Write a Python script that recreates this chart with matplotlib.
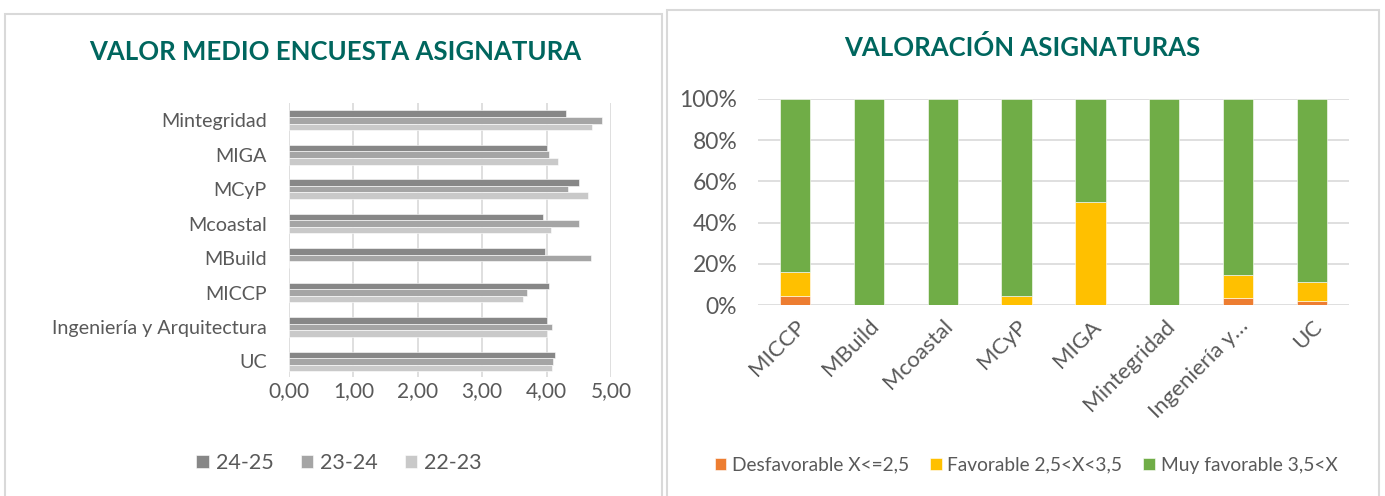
import matplotlib.pyplot as plt
import numpy as np
from matplotlib.patches import Rectangle

plt.rcParams['font.family'] = ['Lato', 'DejaVu Sans']

# left chart data (bottom to top as drawn)
materias = ['UC', 'Ingeniería y Arquitectura', 'MICCP', 'MBuild',
            'Mcoastal', 'MCyP', 'MIGA', 'Mintegridad']
v2425 = [4.13, 4.00, 4.04, 3.98, 3.94, 4.51, 4.00, 4.30]
v2324 = [4.10, 4.09, 3.70, 4.69, 4.51, 4.33, 4.04, 4.86]
v2223 = [4.09, 4.01, 3.63, 0.0, 4.07, 4.64, 4.18, 4.71]
cursos = ['24-25', '23-24', '22-23']

# right chart data (percent)
asignaturas = ['MICCP', 'MBuild', 'Mcoastal', 'MCyP', 'MIGA',
               'Mintegridad', 'Ingeniería y…', 'UC']
desfav = [4.4, 0, 0, 0, 0, 0, 3.4, 1.9]
fav = [11.8, 0, 0, 4.4, 50.0, 0, 11.0, 9.2]
muyfav = [83.8, 100, 100, 95.6, 50.0, 100, 85.6, 88.9]
categorias = ['Desfavorable X<=2,5', 'Favorable 2,5<X<3,5', 'Muy favorable 3,5<X']

grises = ['#878787', '#a5a5a5', '#c9c9c9']
colores = ['#ed7d31', '#ffc000', '#70ad47']
titulo_c = '#00665e'
texto_c = '#595959'
grid_c = '#d9d9d9'

fig = plt.figure(figsize=(13.85, 4.96), dpi=100)

# panel frames
fig.patches.append(Rectangle((5/1385, -0.05), 657/1385, 1.05 - 14/496,
                             transform=fig.transFigure, fill=False,
                             edgecolor=grid_c, lw=1.5))
fig.patches.append(Rectangle((667/1385, -0.05), 712/1385, 1.05 - 10/496,
                             transform=fig.transFigure, fill=False,
                             edgecolor=grid_c, lw=1.5))

# ---- left: horizontal bars
ax1 = fig.add_axes([289/1385, 1 - 377/496, 322/1385, 274/496])
y = np.arange(len(materias))
h = 0.19
for i, (vals, lab) in enumerate(zip([v2425, v2324, v2223], cursos)):
    ax1.barh(y + h * (1 - i), vals, height=h, color=grises[i], label=lab,
             edgecolor='white', linewidth=0.4, zorder=3)
ax1.set_xlim(0, 5)
ax1.set_ylim(-0.45, 7.5)
ax1.set_yticks(y)
ax1.set_yticklabels(materias, fontsize=14.2, color=texto_c)
ax1.set_xticks(np.arange(0, 6))
ax1.set_xticklabels([f'{v:.2f}'.replace('.', ',') for v in range(6)],
                    fontsize=15, color=texto_c)
ax1.grid(axis='x', color=grid_c, lw=1.2, zorder=0)
ax1.tick_params(length=0)
for s in ax1.spines.values():
    s.set_visible(False)
ax1.tick_params(axis='y', pad=16)
ax1.tick_params(axis='x', pad=3)
fig.text(335/1385, 1 - 52/496, 'VALOR MEDIO ENCUESTA ASIGNATURA',
         ha='center', va='center', fontsize=18.5, fontweight='bold', color=titulo_c)
ax1.legend(loc='center', bbox_to_anchor=(339/1385, 1 - 463/496),
           bbox_transform=fig.transFigure, ncol=3, frameon=False,
           fontsize=15.5, labelcolor=texto_c, handlelength=0.6,
           handleheight=0.6, handletextpad=0.3, columnspacing=1.25)

# ---- right: stacked 100% bars
ax2 = fig.add_axes([758/1385, 1 - 305/496, 591/1385, 206/496])
x = np.arange(len(asignaturas))
w = 0.41
bottom = np.zeros(len(asignaturas))
for vals, col, lab in zip([desfav, fav, muyfav], colores, categorias):
    ax2.bar(x, vals, width=w, bottom=bottom, color=col, label=lab,
            edgecolor='white', linewidth=0.4, zorder=3)
    bottom += np.array(vals)
ax2.set_xlim(-0.5, 7.5)
ax2.set_ylim(0, 100)
ax2.set_yticks(np.arange(0, 101, 20))
ax2.set_yticklabels([f'{v}%' for v in range(0, 101, 20)], fontsize=16.5, color=texto_c)
ax2.set_xticks(x)
ax2.set_xticklabels(asignaturas, rotation=45, ha='right', rotation_mode='anchor',
                    fontsize=16, color=texto_c)
ax2.grid(axis='y', color=grid_c, lw=1.2, zorder=0)
ax2.tick_params(length=0)
ax2.tick_params(axis='y', pad=15)
ax2.tick_params(axis='x', pad=8)
for s in ax2.spines.values():
    s.set_visible(False)
fig.text(1022/1385, 1 - 48/496, 'VALORACIÓN ASIGNATURAS',
         ha='center', va='center', fontsize=18.5, fontweight='bold', color=titulo_c)
ax2.legend(loc='center', bbox_to_anchor=(1026/1385, 1 - 465/496),
           bbox_transform=fig.transFigure, ncol=3, frameon=False,
           fontsize=13.8, labelcolor=texto_c, handlelength=0.6,
           handleheight=0.6, handletextpad=0.3, columnspacing=1.1)

fig.savefig('out.png', dpi=100)
